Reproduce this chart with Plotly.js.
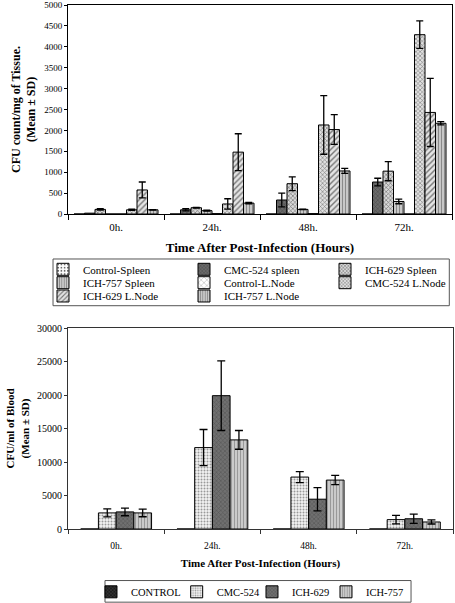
<!DOCTYPE html>
<html>
<head>
<meta charset="utf-8">
<script src="https://cdn.plot.ly/plotly-3.0.1.min.js"></script>
<style>
  html, body { margin: 0; padding: 0; background: #fff; }
  #top { position: absolute; left: 0; top: 0; width: 455px; height: 310px; }
  #bottom { position: absolute; left: 0; top: 310px; width: 455px; height: 293px; }
</style>
</head>
<body>
<div id="top"></div>
<div id="bottom"></div>
<script>
// ---------- Data: tissue chart ----------
const hours = ['0h.', '24h.', '48h.', '72h.'];

const tissueNames = ['Control-Spleen', 'CMC-524 spleen', 'ICH-629 Spleen', 'ICH-757 Spleen',
                     'Control-L.Node', 'CMC-524 L.Node', 'ICH-629 L.Node', 'ICH-757 L.Node'];

const controlSpleen    = [0, 0, 0, 0];
const controlSpleenSD  = [NaN, NaN, NaN, NaN];
const cmc524Spleen     = [20, 100, 335, 765];
const cmc524SpleenSD   = [NaN, 25, 165, 90];
const ich629Spleen     = [110, 150, 725, 1025];
const ich629SpleenSD   = [15, 10, 165, 230];
const ich757Spleen     = [0, 80, 110, 300];
const ich757SpleenSD   = [NaN, 10, 5, 55];
const controlLNode     = [0, 10, 10, 0];
const controlLNodeSD   = [NaN, NaN, NaN, NaN];
const cmc524LNode      = [100, 240, 2130, 4290];
const cmc524LNodeSD    = [15, 125, 700, 330];
const ich629LNode      = [575, 1480, 2020, 2430];
const ich629LNodeSD    = [190, 440, 355, 815];
const ich757LNode      = [100, 260, 1030, 2170];
const ich757LNodeSD    = [5, 15, 60, 40];

// ---------- Data: blood chart ----------
const bloodNames = ['CONTROL', 'CMC-524', 'ICH-629', 'ICH-757'];
const bloodControl   = [0, 0, 0, 0];
const bloodControlSD = [NaN, NaN, NaN, NaN];
const bloodCMC524    = [2400, 12150, 7750, 1400];
const bloodCMC524SD  = [600, 2700, 820, 640];
const bloodICH629    = [2550, 19900, 4450, 1530];
const bloodICH629SD  = [570, 5200, 1730, 700];
const bloodICH757    = [2400, 13300, 7300, 1050];
const bloodICH757SD  = [570, 1400, 690, 300];

// ---------- Styling ----------
const FONT = 'Liberation Serif, Times New Roman, serif';

function errY(arr, w) {
  return { type: 'data', array: arr, visible: true, color: '#000', thickness: 1.3, width: w };
}
function barTrace(name, x, y, sd, pattern, legend, errW, extra) {
  const t = {
    type: 'bar', name: name, x: x, y: y,
    error_y: errY(sd, errW),
    marker: { color: pattern.bgcolor, line: { color: '#000', width: 1 }, pattern: pattern },
    legend: legend
  };
  return Object.assign(t, extra || {});
}

// ---------- Top chart ----------
const tissueValues = [controlSpleen, cmc524Spleen, ich629Spleen, ich757Spleen,
                      controlLNode, cmc524LNode, ich629LNode, ich757LNode];
const tissueSD = [controlSpleenSD, cmc524SpleenSD, ich629SpleenSD, ich757SpleenSD,
                  controlLNodeSD, cmc524LNodeSD, ich629LNodeSD, ich757LNodeSD];
const tissuePatterns = [
  { shape: '.', bgcolor: '#ffffff', fgcolor: '#666', size: 4, solidity: 0.25, fillmode: 'replace' },
  { shape: 'x', bgcolor: '#6a6a6a', fgcolor: '#444', size: 3, solidity: 0.3, fillmode: 'replace' },
  { shape: 'x', bgcolor: '#d8d8d8', fgcolor: '#666', size: 3, solidity: 0.35, fillmode: 'replace' },
  { shape: '|', bgcolor: '#d0d0d0', fgcolor: '#888', size: 3, solidity: 0.4, fillmode: 'replace' },
  { shape: 'x', bgcolor: '#ffffff', fgcolor: '#999', size: 5, solidity: 0.2, fillmode: 'replace' },
  { shape: 'x', bgcolor: '#e0e0e0', fgcolor: '#777', size: 3, solidity: 0.35, fillmode: 'replace' },
  { shape: '/', bgcolor: '#e4e4e4', fgcolor: '#777', size: 4, solidity: 0.35, fillmode: 'replace' },
  { shape: '|', bgcolor: '#cfcfcf', fgcolor: '#8a8a8a', size: 3, solidity: 0.4, fillmode: 'replace' }
];
const tissueLegends = ['legend', 'legend', 'legend', 'legend2', 'legend2', 'legend2', 'legend3', 'legend3'];

const topTraces = tissueNames.map((n, i) =>
  barTrace(n, hours, tissueValues[i], tissueSD[i], tissuePatterns[i], tissueLegends[i], 3.5));

function rowLegend(y) {
  return {
    xref: 'paper', yref: 'paper', x: -0.0651, y: y, xanchor: 'left', yanchor: 'middle',
    orientation: 'h', entrywidth: 96, entrywidthmode: 'pixels',
    bgcolor: 'rgba(0,0,0,0)', borderwidth: 0,
    font: { family: FONT, size: 11, color: '#000' }, traceorder: 'normal'
  };
}

const topLayout = {
  width: 455, height: 310,
  margin: { l: 68, r: 3, t: 5, b: 96, autoexpand: false },
  paper_bgcolor: '#fff', plot_bgcolor: '#fff',
  font: { family: FONT, color: '#000' },
  barmode: 'group', bargap: 0.125, bargroupgap: 0,
  showlegend: true,
  legend: rowLegend(-0.2646),
  legend2: rowLegend(-0.3287),
  legend3: rowLegend(-0.3923),
  xaxis: {
    type: 'category', showline: true, linecolor: '#000', linewidth: 1, mirror: true,
    ticks: 'outside', tickson: 'boundaries', ticklen: 5, tickcolor: '#000', ticklabelstandoff: 3,
    tickfont: { family: FONT, size: 11, color: '#000' },
    showgrid: false, zeroline: false,
    title: { text: 'Time After Post-Infection (Hours)', font: { family: FONT, size: 13, weight: 'bold', color: '#000' }, standoff: 10 }
  },
  yaxis: {
    range: [0, 5000], dtick: 500, tick0: 0, tickformat: 'd', showline: true, linecolor: '#000', linewidth: 1, mirror: true,
    ticks: 'outside', ticklen: 3, tickcolor: '#000',
    tickfont: { family: FONT, size: 9, color: '#000' },
    showgrid: false, zeroline: false,
    title: { text: 'CFU count/mg of Tissue.<br>(Mean ± SD)', font: { family: FONT, size: 12, weight: 'bold', color: '#000' }, standoff: 5 }
  },
  shapes: [{
    type: 'rect', xref: 'paper', yref: 'paper',
    x0: -0.039, x1: 0.993, y0: -0.2153, y1: -0.4388,
    line: { color: '#555', width: 1 }, fillcolor: 'rgba(0,0,0,0)'
  }]
};

// ---------- Bottom chart ----------
const bloodValues = [bloodControl, bloodCMC524, bloodICH629, bloodICH757];
const bloodSD = [bloodControlSD, bloodCMC524SD, bloodICH629SD, bloodICH757SD];
const bloodPatterns = [
  { shape: 'x', bgcolor: '#333333', fgcolor: '#111', size: 3, solidity: 0.4, fillmode: 'replace' },
  { shape: '.', bgcolor: '#f4f4f4', fgcolor: '#999', size: 3, solidity: 0.35, fillmode: 'replace' },
  { shape: 'x', bgcolor: '#707070', fgcolor: '#555', size: 3, solidity: 0.35, fillmode: 'replace' },
  { shape: '|', bgcolor: '#d4d4d4', fgcolor: '#999', size: 3, solidity: 0.45, fillmode: 'replace' }
];
const bloodLegendWidths = [40.7, 30.3, 29, 40];

const bottomTraces = bloodNames.map((n, i) =>
  barTrace(n, hours, bloodValues[i], bloodSD[i], bloodPatterns[i], 'legend', 4,
           { legendwidth: bloodLegendWidths[i] }));

const bottomLayout = {
  width: 455, height: 293,
  margin: { l: 68, r: 2, t: 17.7, b: 73.7, autoexpand: false },
  paper_bgcolor: '#fff', plot_bgcolor: '#fff',
  font: { family: FONT, color: '#000' },
  barmode: 'group', bargap: 0.264, bargroupgap: 0,
  showlegend: true,
  legend: {
    xref: 'paper', yref: 'paper', x: 0.0597, y: -0.3125, xanchor: 'left', yanchor: 'middle',
    orientation: 'h', bgcolor: 'rgba(0,0,0,0)', borderwidth: 0,
    font: { family: FONT, size: 10.5, color: '#000' }, traceorder: 'normal'
  },
  xaxis: {
    type: 'category', showline: true, linecolor: '#333', linewidth: 1, mirror: true,
    ticks: 'outside', tickson: 'boundaries', ticklen: 4, tickcolor: '#333', ticklabelstandoff: 8,
    tickfont: { family: FONT, size: 9.5, color: '#000' },
    showgrid: false, zeroline: false,
    title: { text: 'Time After Post-Infection (Hours)', font: { family: FONT, size: 11, weight: 'bold', color: '#000' }, standoff: 8 }
  },
  yaxis: {
    range: [0, 30000], dtick: 5000, tick0: 0, tickformat: 'd', showline: true, linecolor: '#333', linewidth: 1, mirror: true,
    ticks: 'outside', ticklen: 3, tickcolor: '#333',
    tickfont: { family: FONT, size: 10, color: '#000' },
    showgrid: false, zeroline: false,
    title: { text: 'CFU/ml of Blood<br>(Mean ± SD)', font: { family: FONT, size: 11, weight: 'bold', color: '#000' }, standoff: 5 }
  },
  shapes: [{
    type: 'rect', xref: 'paper', yref: 'paper',
    x0: 0.0961, x1: 0.891, y0: -0.2564, y1: -0.364,
    line: { color: '#555', width: 1 }, fillcolor: 'rgba(0,0,0,0)'
  }]
};

const config = { staticPlot: true, displayModeBar: false };
Plotly.newPlot('top', topTraces, topLayout, config);
Plotly.newPlot('bottom', bottomTraces, bottomLayout, config);
</script>
</body>
</html>
